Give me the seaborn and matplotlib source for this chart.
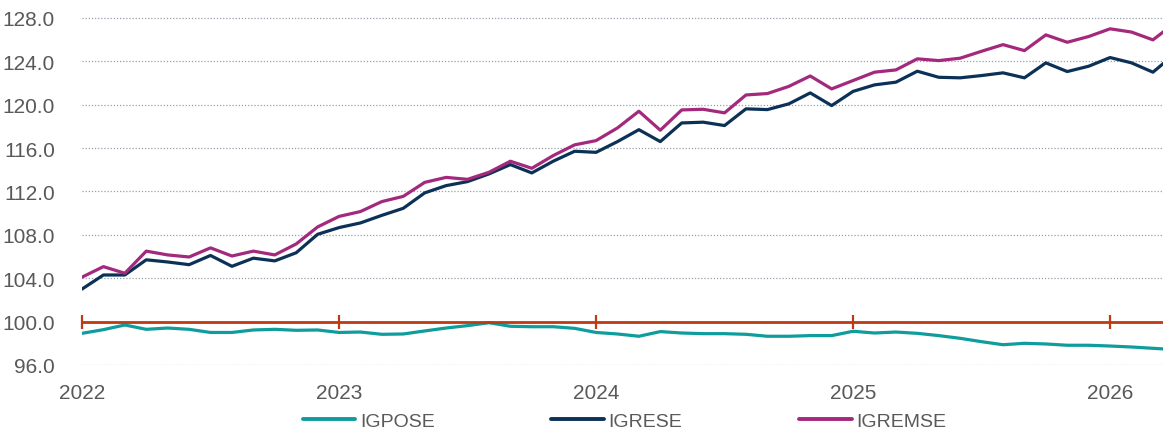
import matplotlib
matplotlib.use("Agg")
import numpy as np
import pandas as pd
import matplotlib.pyplot as plt
import seaborn as sns

# --- datos mensuales (ene-2022 a abr-2026) ---
fechas = pd.date_range("2022-01-01", periods=52, freq="MS")

igpose = [98.92, 99.26, 99.69, 99.29, 99.41, 99.29, 99.00, 99.00, 99.23, 99.29, 99.20, 99.23,
          99.00, 99.04, 98.83, 98.86, 99.14, 99.41, 99.63, 99.90, 99.57, 99.53, 99.53, 99.38,
          99.00, 98.86, 98.65, 99.08, 98.95, 98.89, 98.89, 98.83, 98.65, 98.65, 98.71, 98.71,
          99.11, 98.95, 99.04, 98.92, 98.71, 98.46, 98.15, 97.87, 98.00, 97.94, 97.82, 97.82,
          97.75, 97.66, 97.54, 97.42]
igrese = [103.00, 104.30, 104.30, 105.70, 105.50, 105.25, 106.10, 105.10, 105.85, 105.60, 106.35, 108.05,
          108.67, 109.10, 109.80, 110.45, 111.87, 112.54, 112.91, 113.62, 114.48, 113.71, 114.79, 115.71,
          115.61, 116.60, 117.70, 116.60, 118.32, 118.39, 118.08, 119.62, 119.55, 120.08, 121.09, 119.92,
          121.23, 121.83, 122.08, 123.09, 122.53, 122.48, 122.69, 122.94, 122.48, 123.86, 123.06, 123.55,
          124.35, 123.86, 123.00, 124.65]
igremse = [104.10, 105.07, 104.46, 106.50, 106.15, 105.96, 106.80, 106.05, 106.50, 106.15, 107.16, 108.73,
           109.70, 110.15, 111.07, 111.55, 112.84, 113.30, 113.12, 113.77, 114.79, 114.14, 115.31, 116.30,
           116.69, 117.86, 119.40, 117.65, 119.52, 119.58, 119.25, 120.90, 121.03, 121.69, 122.65, 121.46,
           122.23, 123.00, 123.21, 124.23, 124.07, 124.29, 124.93, 125.54, 124.99, 126.44, 125.76, 126.29,
           127.00, 126.70, 125.98, 127.50]

series = ["IGPOSE", "IGRESE", "IGREMSE"]
colores = ["#0E9C9C", "#0C3157", "#A3297C"]
anios = [2022, 2023, 2024, 2025, 2026]
yticks = [96, 100, 104, 108, 112, 116, 120, 124, 128]

df = pd.DataFrame({"fecha": fechas, "IGPOSE": igpose, "IGRESE": igrese, "IGREMSE": igremse})
df["t"] = df["fecha"].dt.year + (df["fecha"].dt.month - 1) / 12
largo = df.melt(id_vars=["fecha", "t"], value_vars=series, var_name="serie", value_name="indice")

sns.set_theme(style="white")
plt.rcParams["font.family"] = ["Liberation Sans", "DejaVu Sans"]

gris = "#595959"
rojo = "#BE3A12"

fig = plt.figure(figsize=(11.63, 4.31), dpi=100)
ax = fig.add_axes([82 / 1163, 65 / 431, 1081 / 1163, 363.3 / 431])

sns.lineplot(data=largo, x="t", y="indice", hue="serie", hue_order=series,
             palette=colores, linewidth=2.3, ax=ax)

ax.set_xlim(2022, 2022 + 50.47 / 12)
ax.set_ylim(96, 129.5)
ax.set_xlabel("")
ax.set_ylabel("")

# eje y
ax.set_yticks(yticks)
ax.yaxis.set_major_formatter("{x:.1f}")
ax.tick_params(axis="y", left=False, pad=13.5, labelsize=15, labelcolor=gris)
ax.grid(axis="y", color="#95A1AB", linestyle=(0, (1, 1.5)), linewidth=0.9)
ax.grid(axis="x", visible=False)
ax.set_axisbelow(True)

# eje horizontal cruzando en 100
for s in ["left", "right", "top"]:
    ax.spines[s].set_visible(False)
ax.spines["bottom"].set_position(("data", 100))
ax.spines["bottom"].set_color(rojo)
ax.spines["bottom"].set_linewidth(2.0)
ax.set_xticks(anios)
ax.tick_params(axis="x", bottom=True, direction="inout", length=10, width=1.6,
               color=rojo, labelbottom=False)

sec = ax.secondary_xaxis(0)
sec.set_xticks(anios)
sec.set_xticklabels([str(a) for a in anios])
sec.tick_params(length=0, pad=13, labelsize=15, labelcolor=gris)
sec.spines["bottom"].set_visible(False)

handles, labels = ax.get_legend_handles_labels()
ax.get_legend().remove()
leg = fig.legend(handles, labels, loc="center", bbox_to_anchor=(624.5 / 1163, 9 / 431),
                 ncol=3, frameon=False, fontsize=14, handlelength=2.7,
                 handletextpad=0.25, columnspacing=6.0)
for txt in leg.get_texts():
    txt.set_color(gris)
for ln in leg.get_lines():
    ln.set_linewidth(2.8)

fig.savefig("out.png", dpi=100)
